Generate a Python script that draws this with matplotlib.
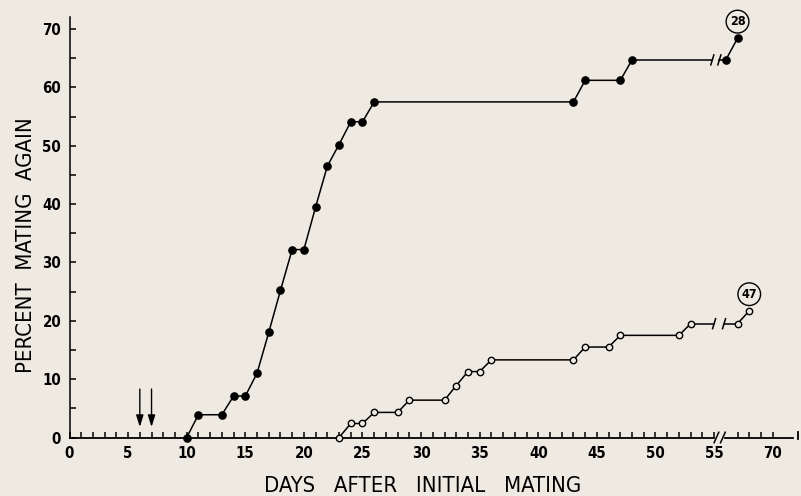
import matplotlib
matplotlib.use('Agg')
import matplotlib.pyplot as plt

# days after mating and cumulative percent mating again
filled_days = [10, 11, 13, 14, 15, 16, 17, 18, 19, 20, 21, 22, 23, 24, 25, 26,
               43, 44, 47, 48, 66, 67]
filled_pct = [0, 3.9, 3.9, 7.1, 7.1, 11.0, 18.0, 25.2, 32.2, 32.2, 39.5, 46.5,
              50.2, 54.1, 54.1, 57.5, 57.5, 61.2, 61.2, 64.7, 64.7, 68.4]
filled_n = 28

open_days = [23, 24, 25, 26, 28, 29, 32, 33, 34, 35, 36, 43, 44, 46, 47, 52,
             53, 67, 68]
open_pct = [0, 2.4, 2.4, 4.3, 4.3, 6.4, 6.4, 8.9, 11.3, 11.3, 13.3, 13.3, 15.5,
            15.5, 17.5, 17.5, 19.5, 19.5, 21.7]
open_n = 47

arrow_days = [6, 7]

x_labels = ['0', '5', '10', '15', '20', '25', '30', '35', '40', '45', '50', '55', '70']
y_labels = ['0', '10', '20', '30', '40', '50', '60', '70']

# the axis skips days 56-66
BREAK_AT = 56
SKIP = 10

BG = '#efeae1'
FONT = dict(family='DejaVu Sans', stretch='condensed')


def shown(days):
    return [d if d <= BREAK_AT else d - SKIP for d in days]


def slash(ax, x, y, half_h=0.85, lean=0.13):
    ax.plot([x - lean, x + lean], [y - half_h, y + half_h], color='black',
            lw=1.1, clip_on=False, zorder=4)


def draw_series(ax, days, pct, gap, **style):
    xs = shown(days)
    pre = [i for i, d in enumerate(days) if d <= BREAK_AT]
    post = [i for i, d in enumerate(days) if d > BREAK_AT]
    for idx in (pre, post):
        ax.plot([xs[i] for i in idx], [pct[i] for i in idx], color='black',
                lw=1.1, clip_on=False, zorder=3, **style)
    # connecting line across the break, with the two break strokes
    a, b = pre[-1], post[0]
    ax.plot([xs[a], gap[0]], [pct[a], pct[a]], color='black', lw=1.1, zorder=2)
    ax.plot([gap[1], xs[b]], [pct[b], pct[b]], color='black', lw=1.1, zorder=2)
    slash(ax, gap[0], pct[a])
    slash(ax, gap[1], pct[b])
    return xs


fig = plt.figure(figsize=(8.01, 4.96), dpi=100, facecolor=BG)
ax = fig.add_axes([69.5 / 801, 58.5 / 496, 728.5 / 801, 420.5 / 496])
ax.set_facecolor(BG)
ax.set_xlim(0, 62.16)
ax.set_ylim(0, 72.05)

for side in ('top', 'right', 'bottom'):
    ax.spines[side].set_visible(False)
ax.spines['left'].set_linewidth(1.1)

# broken bottom axis
ax.plot([0, 55.0], [0, 0], color='black', lw=1.3, clip_on=False, zorder=2)
ax.plot([55.9, 61.7], [0, 0], color='black', lw=1.3, clip_on=False, zorder=2)
slash(ax, 55.2, 0, half_h=0.9, lean=0.2)
slash(ax, 55.75, 0, half_h=0.9, lean=0.2)
ax.plot([62.16, 62.16], [-0.3, 1.0], color='black', lw=1.3, clip_on=False)

major_x = [0, 5, 10, 15, 20, 25, 30, 35, 40, 45, 50, 55, 60]
minor_x = [d for d in range(1, 55)] + [57, 58, 59]
ax.set_xticks(major_x)
ax.set_xticklabels(x_labels)
ax.set_xticks(minor_x, minor=True)
ax.set_yticks(range(0, 71, 10))
ax.set_yticklabels(y_labels)
ax.set_yticks(range(5, 70, 10), minor=True)
ax.tick_params(which='both', direction='in', length=4.3, width=1.1, color='black')
ax.tick_params(axis='x', pad=6)
ax.tick_params(axis='y', pad=6)
for lab in ax.get_xticklabels() + ax.get_yticklabels():
    lab.set_family(FONT['family'])
    lab.set_stretch(FONT['stretch'])
    lab.set_weight('bold')
    lab.set_fontsize(10.8)

fx = draw_series(ax, filled_days, filled_pct, (54.85, 55.45),
                 marker='o', ms=5.2, mfc='black', mec='black')
ox = draw_series(ax, open_days, open_pct, (55.0, 55.85),
                 marker='o', ms=4.6, mfc=BG, mec='black', mew=1.0)

# sample sizes, circled above the last point of each curve
for xs, pct, n in ((fx, filled_pct, filled_n), (ox, open_pct, open_n)):
    ax.annotate(str(n), xy=(xs[-1], pct[-1]), xytext=(0, 12),
                textcoords='offset points', ha='center', va='center',
                weight='bold', fontsize=9, **FONT,
                bbox=dict(boxstyle='circle,pad=0.28', fc=BG, ec='black', lw=1.0))

for d in arrow_days:
    ax.annotate('', xy=(d, 1.8), xytext=(d, 8.3),
                arrowprops=dict(arrowstyle='-|>,head_length=0.7,head_width=0.22',
                                color='black', lw=1.0, shrinkA=0, shrinkB=0))

fig.text(423 / 801, 1 - 486 / 496, 'DAYS   AFTER   INITIAL   MATING',
         ha='center', va='center', fontsize=15.8, **FONT)
fig.text(26.5 / 801, 1 - 245 / 496, 'PERCENT  MATING  AGAIN',
         ha='center', va='center', rotation=90, fontsize=15.8, **FONT)

fig.savefig('out.png', dpi=100, facecolor=BG)
